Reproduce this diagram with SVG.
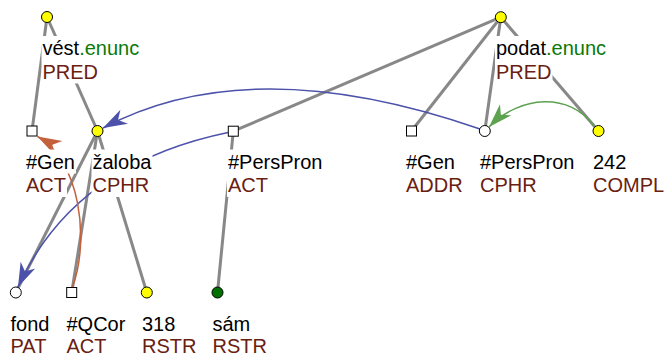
<svg xmlns="http://www.w3.org/2000/svg" width="667" height="355" viewBox="0 0 667 355">
<style>
text { font-family: "Liberation Sans", Arial, sans-serif; font-size: 20px; }
.lem { fill: #000; }
.fun { fill: #6a2010; }
.asp { fill: #0a7a0a; }
.bg { fill: #fff; }
.edge { stroke: #888; stroke-width: 3; fill: none; }
.node { stroke: #000; stroke-width: 1; }
.yel { fill: #ffff00; }
.wht { fill: #fff; }
.grn { fill: #007000; }
.coref { fill: none; stroke-width: 1.5; }
</style>
<defs>
<marker id="ah-blue" markerUnits="userSpaceOnUse" viewBox="-26 -10 28 20" markerWidth="28" markerHeight="20" refX="0" refY="0" orient="auto"><path d="M0,0 L-24,-8 L-17,0 L-24,8 Z" fill="#4c52aa"/></marker>
<marker id="ah-orange" markerUnits="userSpaceOnUse" viewBox="-26 -10 28 20" markerWidth="28" markerHeight="20" refX="0" refY="0" orient="auto"><path d="M0,0 L-24,-8 L-17,0 L-24,8 Z" fill="#c4603c"/></marker>
<marker id="ah-green" markerUnits="userSpaceOnUse" viewBox="-26 -10 28 20" markerWidth="28" markerHeight="20" refX="0" refY="0" orient="auto"><path d="M0,0 L-24,-8 L-17,0 L-24,8 Z" fill="#5ca24f"/></marker>
</defs>

<g id="connectors">
  <g id="edges">
    <line class="edge" x1="47" y1="17" x2="32" y2="131"/>
    <line class="edge" x1="47" y1="17" x2="97.5" y2="131"/>
    <line class="edge" x1="97.5" y1="131" x2="15.8" y2="292.5"/>
    <line class="edge" x1="97.5" y1="131" x2="71.7" y2="292.5"/>
    <line class="edge" x1="97.5" y1="131" x2="146.8" y2="292.5"/>
    <line class="edge" x1="500.8" y1="17.2" x2="233.3" y2="131.2"/>
    <line class="edge" x1="500.8" y1="17.2" x2="411.5" y2="131"/>
    <line class="edge" x1="500.8" y1="17.2" x2="484.8" y2="131"/>
    <line class="edge" x1="500.8" y1="17.2" x2="598.5" y2="131"/>
    <line class="edge" x1="233.3" y1="131.2" x2="217.5" y2="292.5"/>
  </g>
  <g id="corefs">
    <path class="coref" stroke="#4c52aa" d="M480,129 Q250.5,49.5 103,128" marker-end="url(#ah-blue)"/>
    <path class="coref" stroke="#4c52aa" d="M228,132.5 Q73.7,164.4 18,287" marker-end="url(#ah-blue)"/>
    <path class="coref" stroke="#c4603c" d="M72.5,287 C90,240 80,160 37.5,136.5" marker-end="url(#ah-orange)"/>
    <path class="coref" stroke="#5ca24f" d="M594,126 C570,92 520,95 489,127" marker-end="url(#ah-green)"/>
  </g>
</g>

<g id="n-vest">
  <rect class="bg" x="41.5" y="36" width="98.5" height="24"/>
  <rect class="bg" x="41.5" y="59.5" width="57.5" height="24"/>
  <text x="42.5" y="55"><tspan class="lem">vést</tspan><tspan class="asp">.enunc</tspan></text>
  <text class="fun" x="42.5" y="78.5">PRED</text>
  <circle class="node yel" cx="47" cy="17" r="5.5"/>
</g>

<g id="n-gen1">
  <rect class="bg" x="25" y="149.5" width="51" height="24"/>
  <rect class="bg" x="25" y="173" width="42" height="24"/>
  <text class="lem" x="26" y="168.5">#Gen</text>
  <text class="fun" x="26" y="192">ACT</text>
  <rect class="node wht" x="27" y="126" width="10" height="10"/>
</g>

<g id="n-zaloba">
  <rect class="bg" x="91.5" y="149.5" width="61" height="24"/>
  <rect class="bg" x="91.5" y="173" width="58.5" height="24"/>
  <text class="lem" x="92.5" y="168.5">žaloba</text>
  <text class="fun" x="92.5" y="192">CPHR</text>
  <circle class="node yel" cx="97.5" cy="131" r="5.5"/>
</g>

<g id="n-perspron1">
  <rect class="bg" x="227" y="149.5" width="96.5" height="24"/>
  <rect class="bg" x="227" y="173" width="42" height="24"/>
  <text class="lem" x="228" y="168.5">#PersPron</text>
  <text class="fun" x="228" y="192">ACT</text>
  <rect class="node wht" x="228.3" y="126.2" width="10" height="10"/>
</g>

<g id="n-gen2">
  <rect class="bg" x="405" y="149.5" width="51" height="24"/>
  <rect class="bg" x="405" y="173" width="58.5" height="24"/>
  <text class="lem" x="406" y="168.5">#Gen</text>
  <text class="fun" x="406" y="192">ADDR</text>
  <rect class="node wht" x="406.5" y="126" width="10" height="10"/>
</g>

<g id="n-perspron2">
  <rect class="bg" x="479" y="149.5" width="96.5" height="24"/>
  <rect class="bg" x="479" y="173" width="58.5" height="24"/>
  <text class="lem" x="480" y="168.5">#PersPron</text>
  <text class="fun" x="480" y="192">CPHR</text>
  <circle class="node wht" cx="484.8" cy="131" r="5.5"/>
</g>

<g id="n-242">
  <rect class="bg" x="592" y="149.5" width="35.5" height="24"/>
  <rect class="bg" x="592" y="173" width="73" height="24"/>
  <text class="lem" x="593" y="168.5">242</text>
  <text class="fun" x="593" y="192">COMPL</text>
  <circle class="node yel" cx="598.5" cy="131" r="5.5"/>
</g>

<g id="n-podat">
  <rect class="bg" x="495" y="36" width="112" height="24"/>
  <rect class="bg" x="495" y="59.5" width="57.5" height="24"/>
  <text x="496" y="55"><tspan class="lem">podat</tspan><tspan class="asp">.enunc</tspan></text>
  <text class="fun" x="496" y="78.5">PRED</text>
  <circle class="node yel" cx="500.8" cy="17.2" r="5.5"/>
</g>

<g id="n-fond">
  <rect class="bg" x="9.5" y="312" width="41" height="24"/>
  <rect class="bg" x="9.5" y="335" width="41" height="20"/>
  <text class="lem" x="10.5" y="330.5">fond</text>
  <text class="fun" x="10.5" y="353">PAT</text>
  <circle class="node wht" cx="15.8" cy="292.5" r="5.5"/>
</g>

<g id="n-qcor">
  <rect class="bg" x="65.5" y="312" width="61" height="24"/>
  <rect class="bg" x="65.5" y="335" width="42" height="20"/>
  <text class="lem" x="66.5" y="330.5">#QCor</text>
  <text class="fun" x="66.5" y="353">ACT</text>
  <rect class="node wht" x="66.7" y="287.5" width="10" height="10"/>
</g>

<g id="n-318">
  <rect class="bg" x="141" y="312" width="35.5" height="24"/>
  <rect class="bg" x="141" y="335" width="56.5" height="20"/>
  <text class="lem" x="142" y="330.5">318</text>
  <text class="fun" x="142" y="353">RSTR</text>
  <circle class="node yel" cx="146.8" cy="292.5" r="5.5"/>
</g>

<g id="n-sam">
  <rect class="bg" x="211.5" y="312" width="40" height="24"/>
  <rect class="bg" x="211.5" y="335" width="56.5" height="20"/>
  <text class="lem" x="212.5" y="330.5">sám</text>
  <text class="fun" x="212.5" y="353">RSTR</text>
  <circle class="node grn" cx="217.5" cy="292.5" r="5.5"/>
</g>
</svg>
